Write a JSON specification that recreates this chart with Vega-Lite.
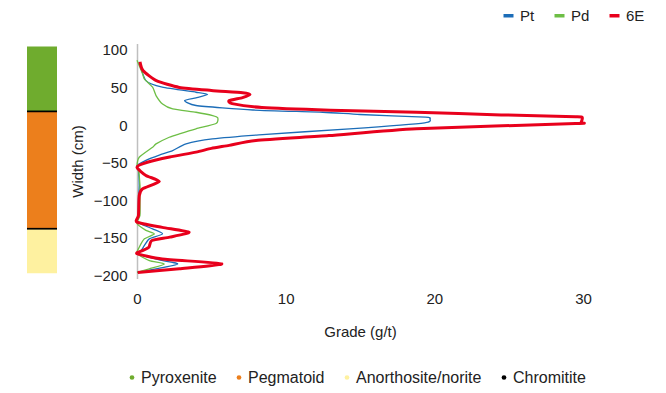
{
  "$schema": "https://vega.github.io/schema/vega-lite/v6.json",
  "padding": {"left": 27, "top": 7.5, "right": 10, "bottom": 5},
  "config": {
    "font": "Liberation Sans",
    "view": {"stroke": null},
    "axis": {"labelFontSize": 15, "labelColor": "#222222", "titleFontSize": 15, "titleFontWeight": "normal", "titleColor": "#222222", "grid": false, "ticks": false, "tickSize": 0, "labelFlush": false}
  },
  "bounds": "flush",
  "spacing": 80,
  "resolve": {"scale": {"y": "independent"}},
  "datasets": {
    "strata": [
      {"lith": "Pyroxenite", "top": 104.4, "bot": 18},
      {"lith": "Pegmatoid", "top": 18, "bot": -138},
      {"lith": "Anorthosite/norite", "top": -138, "bot": -197},
      {"lith": "Chromitite", "top": 19.3, "bot": 17.0},
      {"lith": "Chromitite", "top": -136.7, "bot": -139}
    ],
    "profiles": [
      {"el": "6E", "d": 84, "g": 0.2},
      {"el": "6E", "d": 72.5, "g": 0.4},
      {"el": "6E", "d": 59, "g": 1.3},
      {"el": "6E", "d": 50, "g": 2.85},
      {"el": "6E", "d": 46, "g": 5.0},
      {"el": "6E", "d": 43, "g": 7.1},
      {"el": "6E", "d": 40.5, "g": 7.6},
      {"el": "6E", "d": 36.5, "g": 7.1},
      {"el": "6E", "d": 32.5, "g": 6.2},
      {"el": "6E", "d": 28.5, "g": 6.4},
      {"el": "6E", "d": 23.3, "g": 8.4},
      {"el": "6E", "d": 19.8, "g": 13.0},
      {"el": "6E", "d": 17, "g": 18.8},
      {"el": "6E", "d": 13.5, "g": 24.5},
      {"el": "6E", "d": 11, "g": 29.5},
      {"el": "6E", "d": 10, "g": 29.95},
      {"el": "6E", "d": 3, "g": 29.85},
      {"el": "6E", "d": 2, "g": 29.5},
      {"el": "6E", "d": -5, "g": 18.8},
      {"el": "6E", "d": -14, "g": 12.9},
      {"el": "6E", "d": -20.5, "g": 8.0},
      {"el": "6E", "d": -27, "g": 6.2},
      {"el": "6E", "d": -31, "g": 5.0},
      {"el": "6E", "d": -36, "g": 3.97},
      {"el": "6E", "d": -42.5, "g": 2.2},
      {"el": "6E", "d": -49.5, "g": 0.7},
      {"el": "6E", "d": -56, "g": 0},
      {"el": "6E", "d": -67, "g": 0.6},
      {"el": "6E", "d": -75, "g": 1.5},
      {"el": "6E", "d": -85, "g": 0.36},
      {"el": "6E", "d": -94, "g": 0.15},
      {"el": "6E", "d": -120, "g": 0.1},
      {"el": "6E", "d": -129, "g": 0},
      {"el": "6E", "d": -136, "g": 1.7},
      {"el": "6E", "d": -142.5, "g": 3.5},
      {"el": "6E", "d": -149, "g": 2.2},
      {"el": "6E", "d": -153.5, "g": 1.0},
      {"el": "6E", "d": -162.5, "g": 0.8},
      {"el": "6E", "d": -167, "g": 0.36},
      {"el": "6E", "d": -171, "g": 0},
      {"el": "6E", "d": -178, "g": 1.7},
      {"el": "6E", "d": -184.5, "g": 5.7},
      {"el": "6E", "d": -191, "g": 2.85},
      {"el": "6E", "d": -196, "g": 0.05},
      {"el": "Pt", "d": 84, "g": 0.15},
      {"el": "Pt", "d": 59, "g": 0.6},
      {"el": "Pt", "d": 50.3, "g": 1.7},
      {"el": "Pt", "d": 43.6, "g": 3.97},
      {"el": "Pt", "d": 40.6, "g": 4.75},
      {"el": "Pt", "d": 36.2, "g": 3.97},
      {"el": "Pt", "d": 32.6, "g": 3.2},
      {"el": "Pt", "d": 26, "g": 3.97},
      {"el": "Pt", "d": 20, "g": 7.8},
      {"el": "Pt", "d": 17, "g": 12.5},
      {"el": "Pt", "d": 14, "g": 15},
      {"el": "Pt", "d": 10.5, "g": 19.4},
      {"el": "Pt", "d": 8.2, "g": 19.7},
      {"el": "Pt", "d": 3, "g": 19.35},
      {"el": "Pt", "d": -5, "g": 14.3},
      {"el": "Pt", "d": -13, "g": 8.2},
      {"el": "Pt", "d": -18.4, "g": 5.07},
      {"el": "Pt", "d": -25, "g": 3.3},
      {"el": "Pt", "d": -34, "g": 2.4},
      {"el": "Pt", "d": -40, "g": 1.5},
      {"el": "Pt", "d": -47, "g": 0.6},
      {"el": "Pt", "d": -54, "g": 0},
      {"el": "Pt", "d": -60, "g": 0.1},
      {"el": "Pt", "d": -80, "g": 0.15},
      {"el": "Pt", "d": -100, "g": 0.1},
      {"el": "Pt", "d": -120, "g": 0.1},
      {"el": "Pt", "d": -129, "g": 0},
      {"el": "Pt", "d": -138, "g": 1.05},
      {"el": "Pt", "d": -144.7, "g": 1.72},
      {"el": "Pt", "d": -151.3, "g": 0.83},
      {"el": "Pt", "d": -160, "g": 0.5},
      {"el": "Pt", "d": -167, "g": 0.27},
      {"el": "Pt", "d": -171, "g": 0},
      {"el": "Pt", "d": -179.3, "g": 1.5},
      {"el": "Pt", "d": -184.6, "g": 2.73},
      {"el": "Pt", "d": -191.2, "g": 1.28},
      {"el": "Pt", "d": -196, "g": 0},
      {"el": "Pd", "d": 86, "g": 0},
      {"el": "Pd", "d": 68, "g": 0.38},
      {"el": "Pd", "d": 61.4, "g": 0.49},
      {"el": "Pd", "d": 50.3, "g": 1.05},
      {"el": "Pd", "d": 39.2, "g": 1.28},
      {"el": "Pd", "d": 28, "g": 1.72},
      {"el": "Pd", "d": 21.5, "g": 2.4},
      {"el": "Pd", "d": 17, "g": 3.97},
      {"el": "Pd", "d": 12.6, "g": 5.09},
      {"el": "Pd", "d": 9.6, "g": 5.43},
      {"el": "Pd", "d": 2, "g": 5.32},
      {"el": "Pd", "d": -5, "g": 3.97},
      {"el": "Pd", "d": -11.7, "g": 2.85},
      {"el": "Pd", "d": -16.2, "g": 2.17},
      {"el": "Pd", "d": -25, "g": 1.28},
      {"el": "Pd", "d": -29.5, "g": 1.05},
      {"el": "Pd", "d": -42.8, "g": 0.15},
      {"el": "Pd", "d": -54, "g": 0},
      {"el": "Pd", "d": -60, "g": 0.1},
      {"el": "Pd", "d": -80, "g": 0.2},
      {"el": "Pd", "d": -100, "g": 0.2},
      {"el": "Pd", "d": -120, "g": 0.2},
      {"el": "Pd", "d": -131, "g": 0},
      {"el": "Pd", "d": -140, "g": 0.6},
      {"el": "Pd", "d": -144.7, "g": 1.17},
      {"el": "Pd", "d": -151.3, "g": 0.5},
      {"el": "Pd", "d": -162.5, "g": 0.15},
      {"el": "Pd", "d": -171, "g": 0},
      {"el": "Pd", "d": -180.2, "g": 0.83},
      {"el": "Pd", "d": -184.6, "g": 1.84},
      {"el": "Pd", "d": -191.2, "g": 0.83},
      {"el": "Pd", "d": -196, "g": 0}
    ]
  },
  "hconcat": [
    {
      "width": 30,
      "height": 235,
      "data": {"name": "strata"},
      "mark": {"type": "rect"},
      "encoding": {
        "x": {"value": 0},
        "x2": {"value": "width"},
        "y": {"field": "top", "type": "quantitative", "scale": {"domain": [-204, 108.4], "nice": false, "zero": false}, "axis": null},
        "y2": {"field": "bot"},
        "fill": {
          "field": "lith", "type": "nominal",
          "scale": {"domain": ["Pyroxenite", "Pegmatoid", "Anorthosite/norite", "Chromitite"], "range": ["#6FAC2E", "#EC7F1C", "#FEF1A0", "#000000"]},
          "legend": {
            "title": null, "orient": "none", "direction": "horizontal",
            "legendX": 97, "legendY": 326,
            "symbolType": "circle", "symbolSize": 22, "symbolStrokeWidth": 0,
            "labelFontSize": 16, "labelColor": "#222222", "labelOffset": 1, "columnPadding": 14
          }
        }
      }
    },
    {
      "width": 446,
      "height": 235,
      "data": {"name": "profiles"},
      "encoding": {
        "x": {"field": "g", "type": "quantitative", "scale": {"domain": [0, 30], "nice": false},
          "axis": {"values": [0, 10, 20, 30], "domain": false, "labelPadding": 13, "title": "Grade (g/t)", "titlePadding": 18}},
        "y": {"field": "d", "type": "quantitative", "scale": {"domain": [-204, 108.4], "nice": false, "zero": false},
          "axis": {"values": [-200, -150, -100, -50, 0, 50, 100], "domain": true, "domainColor": "#bfbfbf", "domainWidth": 1.5, "labelPadding": 10, "title": "Width (cm)", "titlePadding": 8}},
        "order": {"field": "d", "sort": "descending"},
        "color": {
          "field": "el", "type": "nominal",
          "scale": {"domain": ["Pt", "Pd", "6E"], "range": ["#1C6DB8", "#6DBE45", "#E8001C"]},
          "legend": {
            "title": null, "orient": "none", "direction": "horizontal",
            "legendX": 474, "legendY": -35.5,
            "symbolType": "stroke", "symbolSize": 100, "symbolStrokeWidth": 3.5,
            "labelFontSize": 15, "labelColor": "#222222", "labelOffset": 4, "columnPadding": 12
          }
        }
      },
      "layer": [
        {"transform": [{"filter": "datum.el === 'Pt'"}], "mark": {"type": "line", "interpolate": "cardinal", "tension": 0.4, "strokeWidth": 1.3}},
        {"transform": [{"filter": "datum.el === 'Pd'"}], "mark": {"type": "line", "interpolate": "cardinal", "tension": 0.4, "strokeWidth": 1.3}},
        {"transform": [{"filter": "datum.el === '6E'"}], "mark": {"type": "line", "interpolate": "cardinal", "tension": 0.4, "strokeWidth": 3}}
      ]
    }
  ]
}
